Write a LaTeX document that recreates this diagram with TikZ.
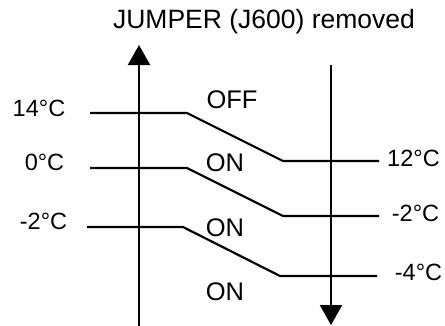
\documentclass[tikz,border=0pt]{standalone}
\usepackage{fontspec}
\setmainfont{Liberation Sans}
\usetikzlibrary{arrows.meta}
\begin{document}
\begin{tikzpicture}[x=1pt,y=-1pt,
  wire/.style={line width=2.2pt, line join=miter},
  axis/.style={line width=2.2pt, -{Triangle[length=20pt,width=22pt]}},
  temp/.style={inner sep=0pt, font=\fontsize{23.5}{26}\selectfont},
  state/.style={inner sep=0pt, font=\fontsize{25.5}{28}\selectfont},
  ttl/.style={inner sep=0pt, font=\fontsize{26.5}{29}\selectfont}]
\useasboundingbox (0,0) rectangle (445,325);
% title
\node[ttl] (title) at (264,22) {JUMPER (J600) removed};
% axes
\coordinate (lb) at (139,326);
\coordinate (lt) at (139,45);
\coordinate (rt) at (331,65);
\coordinate (rb) at (331,325);
\draw[axis] (lb) -- (lt);
\draw[axis] (rt) -- (rb);
% threshold lines
\coordinate (a1) at (90,113);  \coordinate (a2) at (187,113);
\coordinate (a3) at (283,161); \coordinate (a4) at (379,161);
\coordinate (b1) at (90,168);  \coordinate (b2) at (187,168);
\coordinate (b3) at (283,216); \coordinate (b4) at (379,216);
\coordinate (c1) at (87,227);  \coordinate (c2) at (183,227);
\coordinate (c3) at (280,276); \coordinate (c4) at (377,276);
\draw[wire] (a1) -- (a2) -- (a3) -- (a4);
\draw[wire] (b1) -- (b2) -- (b3) -- (b4);
\draw[wire] (c1) -- (c2) -- (c3) -- (c4);
% left labels
\node[temp] (t14) at (39,108) {14°C};
\node[temp] (t0) at (44.5,162) {0°C};
\node[temp] (tm2l) at (43.5,221.5) {-2°C};
% right labels
\node[temp] (t12) at (413.5,158.5) {12°C};
\node[temp] (tm2r) at (415.5,213.5) {-2°C};
\node[temp] (tm4) at (418.5,272.5) {-4°C};
% states
\node[state] (off) at (232,100) {OFF};
\node[state] (on1) at (225,163) {ON};
\node[state] (on2) at (225,228) {ON};
\node[state] (on3) at (225,292) {ON};
\end{tikzpicture}
\end{document}
